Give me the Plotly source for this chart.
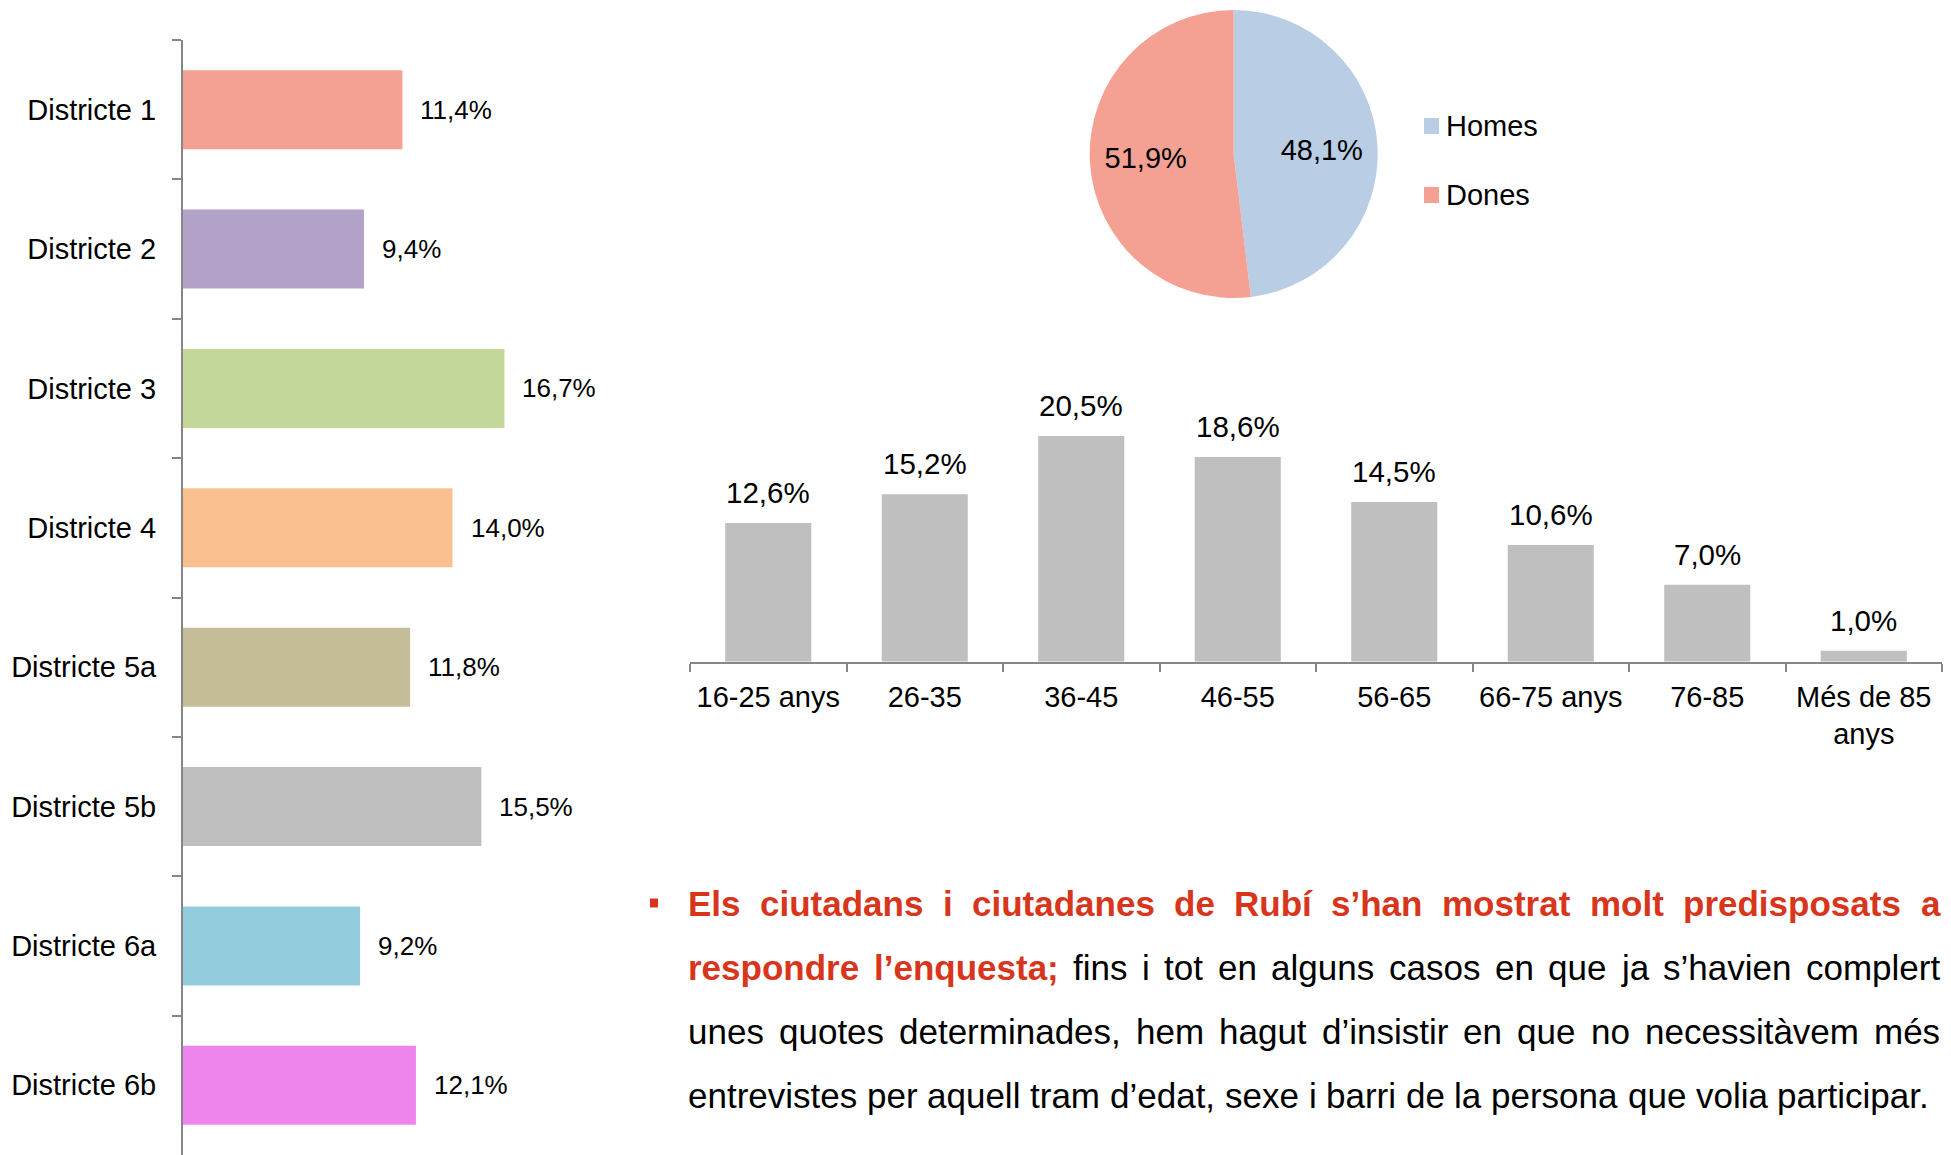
import plotly.graph_objects as go

W, H = 1951, 1155
FONT = "Arial, Liberation Sans, sans-serif"

# ---------------- data ----------------
district_names = ["Districte 1", "Districte 2", "Districte 3", "Districte 4",
                  "Districte 5a", "Districte 5b", "Districte 6a", "Districte 6b"]
district_values = [11.4, 9.4, 16.7, 14.0, 11.8, 15.5, 9.2, 12.1]
district_colors = ["#F4A193", "#B2A2C7", "#C4D79B", "#FAC090",
                   "#C4BD97", "#BFBFBF", "#93CDDD", "#EE85EE"]

age_labels = ["16-25 anys", "26-35", "36-45", "46-55", "56-65",
              "66-75 anys", "76-85", "Més de 85<br>anys"]
age_values = [12.6, 15.2, 20.5, 18.6, 14.5, 10.6, 7.0, 1.0]
age_color = "#BFBFBF"

sex_labels = ["Homes", "Dones"]
sex_values = [48.1, 51.9]
sex_colors = ["#B9CDE5", "#F4A193"]

RED = "#D8361C"
paragraph_lines = [
    [("Els ciutadans i ciutadanes de Rubí s’han mostrat molt predisposats a", "bold")],
    [("respondre l’enquesta;", "bold"),
     ("fins i tot en alguns casos en que ja s’havien complert", "regular")],
    [("unes quotes determinades, hem hagut d’insistir en que no necessitàvem més", "regular")],
    [("entrevistes per aquell tram d’edat, sexe i barri de la persona que volia participar.", "regular")],
]

# ---------------- helpers ----------------
def px_x(p):
    return p / W

def px_y(p):
    return 1 - p / H

def fmt(v):
    return f"{v:.1f}%".replace(".", ",")

REG = {' ': 278, 'a': 556, 'b': 556, 'c': 500, 'd': 556, 'e': 556, 'f': 278, 'g': 556,
       'h': 556, 'i': 222, 'j': 222, 'k': 500, 'l': 222, 'm': 833, 'n': 556, 'o': 556,
       'p': 556, 'q': 556, 'r': 333, 's': 500, 't': 278, 'u': 556, 'v': 500, 'w': 722,
       'x': 500, 'y': 500, 'z': 500, ',': 278, '.': 278, ';': 278, '’': 222, 'à': 556,
       'é': 556, 'í': 278, 'E': 667, 'R': 722}
BOLD = {' ': 278, 'a': 556, 'b': 611, 'c': 556, 'd': 611, 'e': 556, 'f': 333, 'g': 611,
        'h': 611, 'i': 278, 'j': 278, 'k': 556, 'l': 278, 'm': 889, 'n': 611, 'o': 611,
        'p': 611, 'q': 611, 'r': 389, 's': 556, 't': 333, 'u': 611, 'v': 556, 'w': 778,
        'x': 556, 'y': 556, 'z': 500, ',': 278, '.': 278, ';': 333, '’': 278, 'à': 556,
        'é': 556, 'í': 278, 'E': 667, 'R': 722}

def text_w(s, style, size):
    tab = BOLD if style == "bold" else REG
    return sum(tab.get(c, 556) for c in s) / 1000.0 * size

# ---------------- figure ----------------
fig = go.Figure()

# left horizontal bars
fig.add_trace(go.Bar(
    x=district_values, y=district_names, orientation="h",
    marker=dict(color=district_colors, line=dict(width=0)),
    width=0.567, xaxis="x", yaxis="y", hoverinfo="skip", showlegend=False,
))

# age bars
fig.add_trace(go.Bar(
    x=age_labels, y=age_values,
    marker=dict(color=age_color, line=dict(width=0)),
    width=0.55, xaxis="x2", yaxis="y2", hoverinfo="skip", showlegend=False,
))

# pie (non-breaking spaces nudge the labels outward, as in the original)
NB = "\u00a0" * 4
fig.add_trace(go.Pie(
    labels=sex_labels, values=sex_values, sort=False, direction="clockwise",
    rotation=0, marker=dict(colors=sex_colors, line=dict(width=0)),
    texttemplate=[NB + "%{percent:.1%}", "%{percent:.1%}" + NB],
    textposition="inside",
    insidetextorientation="horizontal",
    textfont=dict(family=FONT, size=29, color="black"),
    domain=dict(x=[px_x(1089.7), px_x(1377.7)], y=[px_y(298), px_y(10)]),
    showlegend=False, hoverinfo="skip",
))

AX = "#868686"
annotations = []
shapes = []

# district value labels
for name, v in zip(district_names, district_values):
    annotations.append(dict(
        x=v, y=name, xref="x", yref="y", text=fmt(v), showarrow=False,
        xanchor="left", yanchor="middle", xshift=16,
        font=dict(family=FONT, size=26, color="black")))

# age value labels
for lab, v in zip(age_labels, age_values):
    annotations.append(dict(
        x=lab, y=v, xref="x2", yref="y2", text=fmt(v), showarrow=False,
        xanchor="center", yanchor="bottom", yshift=12,
        font=dict(family=FONT, size=29.5, color="black")))

# pie legend (custom spacing)
legend_y = [126, 195]
for lab, col, yy in zip(sex_labels, sex_colors, legend_y):
    shapes.append(dict(type="rect", xref="paper", yref="paper",
                       x0=px_x(1424), x1=px_x(1439), y0=px_y(yy + 8), y1=px_y(yy - 8),
                       fillcolor=col, line=dict(width=0)))
    annotations.append(dict(
        x=px_x(1444), y=px_y(yy), xref="paper", yref="paper", text=lab,
        showarrow=False, xanchor="left", yanchor="middle",
        font=dict(family=FONT, size=29, color="black")))

# bullet
shapes.append(dict(type="rect", xref="paper", yref="paper",
                   x0=px_x(650), x1=px_x(658), y0=px_y(907.5), y1=px_y(898.5),
                   fillcolor=RED, line=dict(width=0)))

# justified paragraph, word by word
TS = 35
x_left, x_right = 687, 1939
line_centers = [903, 967, 1031, 1095]
for li, (segments, yc) in enumerate(zip(paragraph_lines, line_centers)):
    words = []
    for seg_text, style in segments:
        for wd in seg_text.split(" "):
            words.append((wd, style))
    widths = [text_w(wd, st, TS) for wd, st in words]
    if li < len(paragraph_lines) - 1:
        gap = (x_right - x_left - sum(widths)) / (len(words) - 1)
    else:
        gap = REG[' '] / 1000.0 * TS
    x = x_left
    for (wd, st), wdt in zip(words, widths):
        bold = st == "bold"
        annotations.append(dict(
            x=px_x(x), y=px_y(yc), xref="paper", yref="paper",
            text=f"<b>{wd}</b>" if bold else wd, showarrow=False,
            xanchor="left", yanchor="middle", borderpad=0,
            font=dict(family=FONT, size=TS, color=RED if bold else "black")))
        x += wdt + gap

fig.update_layout(
    width=W, height=H,
    margin=dict(l=0, r=0, t=0, b=0),
    paper_bgcolor="white", plot_bgcolor="white",
    separators=",.",
    font=dict(family=FONT, color="black"),
    showlegend=False,
    xaxis=dict(domain=[px_x(183), px_x(183 + 20 * 19.25)], range=[0, 20],
               visible=False, fixedrange=True),
    yaxis=dict(domain=[0, px_y(40)], type="category", autorange="reversed",
               showline=True, linecolor=AX, linewidth=2,
               ticks="outside", ticklen=9, tickwidth=2, tickcolor=AX,
               tickson="boundaries", showgrid=False, zeroline=False,
               tickfont=dict(family=FONT, size=29, color="black"),
               ticklabelstandoff=19, anchor="x"),
    xaxis2=dict(domain=[px_x(690), px_x(1942)], type="category", anchor="y2",
                showline=True, linecolor=AX, linewidth=2,
                ticks="outside", ticklen=8, tickwidth=2, tickcolor=AX,
                tickson="boundaries", showgrid=False, zeroline=False,
                tickfont=dict(family=FONT, size=29, color="black"),
                ticklabelstandoff=8),
    yaxis2=dict(domain=[px_y(661.7), px_y(361.7)], range=[0, 27.25],
                visible=False, anchor="x2"),
    annotations=annotations,
    shapes=shapes,
)

fig.write_html(
    "out.html",
    config={"displayModeBar": False},
    post_script="document.body.style.margin='0';document.body.style.overflow='hidden';",
)
